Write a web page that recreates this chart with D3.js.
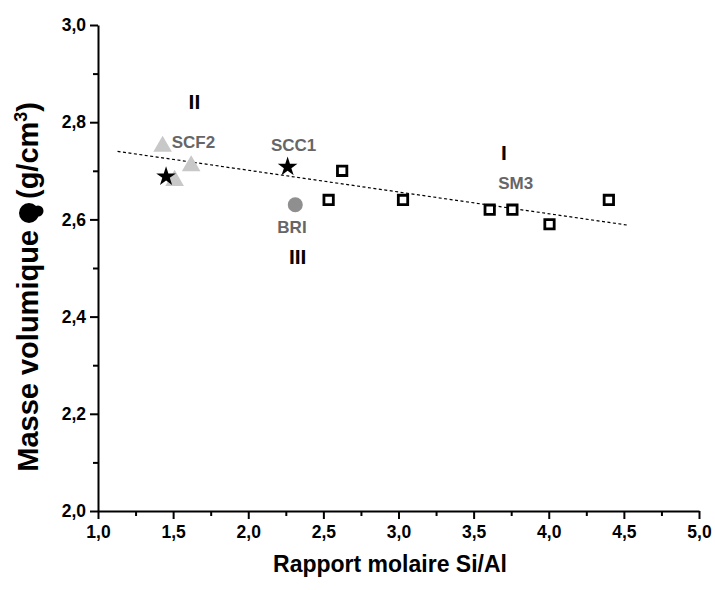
<!DOCTYPE html>
<html><head><meta charset="utf-8">
<script src="https://cdn.jsdelivr.net/npm/d3@7"></script>
<style>body{margin:0;background:#fff}</style>
</head><body><svg id="c" width="715" height="590"></svg>
<script>
// ---- data ----
const xTicks = [1.0, 1.5, 2.0, 2.5, 3.0, 3.5, 4.0, 4.5, 5.0];
const yTicks = [2.0, 2.2, 2.4, 2.6, 2.8, 3.0];
const squaresX = [2.535, 2.625, 3.03, 3.607, 3.758, 4.005, 4.40];
const squaresY = [2.64, 2.70, 2.64, 2.62, 2.62, 2.59, 2.64];
const trianglesX = [1.43, 1.62, 1.51];
const trianglesY = [2.75, 2.71, 2.68];
const starsX = [1.453, 2.262];
const starsY = [2.688, 2.708];
const circlesX = [2.313];
const circlesY = [2.63];
const trendX = [1.13, 4.53];
const trendY = [2.740, 2.588];
const sampleNames = ["SCF2", "SCC1", "BRI", "SM3"];
const sampleNameX = [1.635, 2.302, 2.291, 3.78];
const sampleNameY = [2.760, 2.753, 2.585, 2.676];
const groupNames = ["I", "II", "III"];
const groupNameX = [3.702, 1.642, 2.329];
const groupNameY = [2.738, 2.842, 2.523];

const svg = d3.select("#c");
const FONT = "'Liberation Sans', Arial, Helvetica, sans-serif";
const x = d3.scaleLinear().domain([1, 5]).range([98, 699]);
const y = d3.scaleLinear().domain([2, 3]).range([511, 25]);

// axes
const xMinor = d3.range(1.25, 5, 0.5);
const yMinor = d3.range(2.1, 3.0, 0.2);
const gx = svg.append("g").attr("transform", `translate(0,${y(2)})`);
gx.call(d3.axisBottom(x).tickValues(xMinor).tickSize(5).tickFormat(""));
gx.call(g => g.select(".domain").remove());
const gx2 = svg.append("g").attr("transform", `translate(0,${y(2)})`)
  .call(d3.axisBottom(x).tickValues(xTicks).tickSize(8).tickSizeOuter(0)
    .tickPadding(7).tickFormat(d => d3.format(".1f")(d).replace(".", ",")));
const gy = svg.append("g").attr("transform", `translate(${x(1)},0)`);
gy.call(d3.axisLeft(y).tickValues(yMinor).tickSize(5).tickFormat(""));
gy.call(g => g.select(".domain").remove());
const gy2 = svg.append("g").attr("transform", `translate(${x(1)},0)`)
  .call(d3.axisLeft(y).tickValues(yTicks).tickSize(8).tickSizeOuter(0)
    .tickPadding(4).tickFormat(d => d3.format(".1f")(d).replace(".", ",")));
svg.selectAll(".domain, .tick line").attr("stroke", "#000").attr("stroke-width", 2);
svg.selectAll(".tick text").attr("font-family", FONT).attr("font-weight", "bold")
  .attr("font-size", 17.5).attr("fill", "#000");

// trend line
svg.append("path")
  .attr("d", d3.line().x(d => x(d[0])).y(d => y(d[1]))(d3.zip(trendX, trendY)))
  .attr("fill", "none").attr("stroke", "#000").attr("stroke-width", 1.2)
  .attr("stroke-dasharray", "3,2.5");

// markers
svg.append("g").selectAll("path").data(d3.zip(trianglesX, trianglesY)).join("path")
  .attr("transform", d => `translate(${x(d[0])},${y(d[1])})`)
  .attr("d", d3.symbol(d3.symbolTriangle, 150)).attr("fill", "#c8c8c8");
svg.append("g").selectAll("circle").data(d3.zip(circlesX, circlesY)).join("circle")
  .attr("cx", d => x(d[0])).attr("cy", d => y(d[1])).attr("r", 7.5).attr("fill", "#8f8f8f");
svg.append("g").selectAll("path").data(d3.zip(starsX, starsY)).join("path")
  .attr("transform", d => `translate(${x(d[0])},${y(d[1])})`)
  .attr("d", d3.symbol(d3.symbolStar, 120)).attr("fill", "#000");
svg.append("g").selectAll("path").data(d3.zip(squaresX, squaresY)).join("path")
  .attr("transform", d => `translate(${x(d[0])},${y(d[1])})`)
  .attr("d", d3.symbol(d3.symbolSquare, 88)).attr("fill", "#fff")
  .attr("stroke", "#000").attr("stroke-width", 2.8);

// labels
svg.append("g").selectAll("text").data(d3.zip(sampleNames, sampleNameX, sampleNameY)).join("text")
  .attr("x", d => x(d[1])).attr("y", d => y(d[2])).attr("dy", "0.36em")
  .attr("text-anchor", "middle").attr("font-family", FONT).attr("font-weight", "bold")
  .attr("font-size", 17).attr("fill", "#666").text(d => d[0]);
svg.append("g").selectAll("text").data(d3.zip(groupNames, groupNameX, groupNameY)).join("text")
  .attr("x", d => x(d[1])).attr("y", d => y(d[2])).attr("dy", "0.36em")
  .attr("text-anchor", "middle").attr("font-family", FONT).attr("font-weight", "bold")
  .attr("font-size", 21).attr("fill", "#000").text(d => d[0]);

// axis titles
svg.append("text").attr("x", 390).attr("y", 572).attr("text-anchor", "middle")
  .attr("font-family", FONT).attr("font-weight", "bold").attr("font-size", 23)
  .text("Rapport molaire Si/Al");

const yt = svg.append("g").attr("transform", "translate(38,288) rotate(-90)");
yt.append("text").attr("x", 58).attr("y", 0).attr("text-anchor", "end")
  .attr("font-family", FONT).attr("font-weight", "bold").attr("font-size", 29)
  .text("Masse volumique");
yt.append("circle").attr("cx", 75).attr("cy", -9).attr("r", 10).attr("fill", "#000");
yt.append("circle").attr("cx", 77).attr("cy", 0).attr("r", 5.5).attr("fill", "#000");
const t2 = yt.append("text").attr("x", 89).attr("y", 0)
  .attr("font-family", FONT).attr("font-weight", "bold").attr("font-size", 29);
t2.append("tspan").text("(g/cm");
t2.append("tspan").attr("dy", -11).attr("font-size", 18).text("3");
t2.append("tspan").attr("dy", 11).text(")");
</script></body></html>
